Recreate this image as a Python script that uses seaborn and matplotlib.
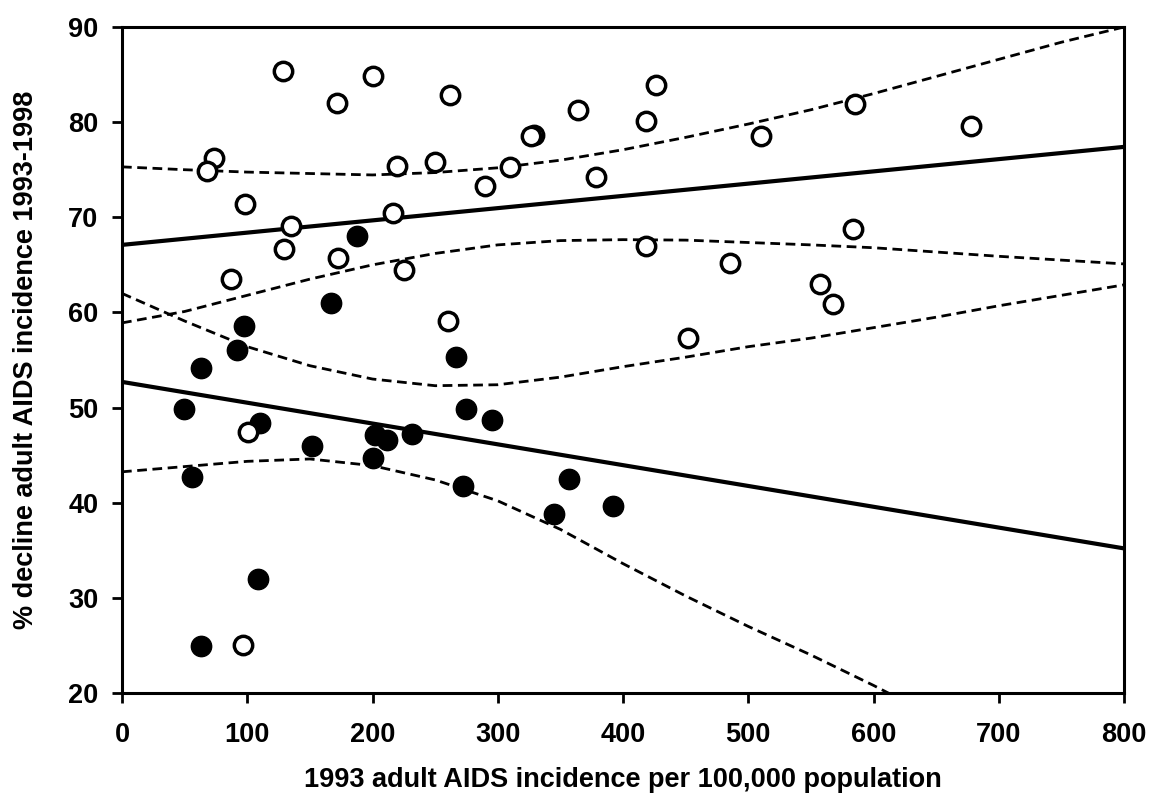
import matplotlib
matplotlib.use("Agg")
import matplotlib.pyplot as plt
import seaborn as sns
import pandas as pd
import numpy as np

# ---- data ----
open_x = [128.3, 200.7, 171.9, 73.5, 67.6, 219.5, 98.2, 134.9, 216.1, 129.3, 172.2, 87.3,
          225.1, 261.9, 363.8, 426.3, 418.4, 328.6, 326.3, 510.2, 249.6, 309.8, 290.1,
          378.4, 418.4, 485.4, 260.6, 452.1, 585.2, 677.8, 583.4, 557.3, 567.9, 100.9, 96.9]
open_y = [85.4, 84.85, 82.0, 76.2, 74.9, 75.4, 71.4, 69.05, 70.4, 66.7, 65.7, 63.5,
          64.5, 82.8, 81.3, 83.9, 80.1, 78.7, 78.5, 78.5, 75.8, 75.25, 73.3,
          74.2, 67.0, 65.2, 59.1, 57.3, 81.9, 79.6, 68.8, 62.95, 60.9, 47.45, 25.0]

filled_x = [63.3, 92.1, 97.4, 166.6, 187.4, 266.7, 49.8, 110.2, 151.4, 201.6, 211.3,
            200.7, 231.3, 56.1, 108.3, 62.8, 274.7, 295.2, 272.0, 357.1, 345.1, 391.8]
filled_y = [54.2, 56.0, 58.6, 61.0, 68.0, 55.35, 49.85, 48.4, 46.0, 47.1, 46.6,
            44.7, 47.2, 42.7, 31.95, 24.9, 49.85, 48.7, 41.75, 42.5, 38.8, 39.65]

# regression lines (end points)
fit_x = [0, 800]
fit_open_y = [67.1, 77.4]
fit_filled_y = [52.7, 35.2]

# confidence bands
band_x = [0, 50, 100, 150, 200, 250, 300, 350, 400, 450, 500, 550, 600, 650, 700, 750, 800]
open_upper = [75.3, 75.0, 74.75, 74.6, 74.45, 74.7, 75.2, 76.0, 77.1, 78.4, 79.8, 81.3,
              83.0, 84.8, 86.6, 88.4, 90.0]
open_lower = [58.9, 60.1, 61.8, 63.5, 65.0, 66.2, 67.1, 67.55, 67.65, 67.6, 67.35, 67.1,
              66.8, 66.35, 65.9, 65.5, 65.1]
filled_upper = [62.0, 59.1, 56.4, 54.4, 53.0, 52.3, 52.4, 53.2, 54.3, 55.3, 56.4, 57.3,
                58.4, 59.5, 60.7, 61.8, 62.9]
filled_lower_x = [0, 50, 100, 150, 200, 250, 300, 350, 400, 450, 500, 550, 600, 650]
filled_lower = [43.25, 43.8, 44.35, 44.6, 43.9, 42.4, 40.2, 37.2, 33.6, 30.2, 27.0, 24.0,
                20.8, 17.4]

x_ticks = [0, 100, 200, 300, 400, 500, 600, 700, 800]
y_ticks = [20, 30, 40, 50, 60, 70, 80, 90]
x_label = "1993 adult AIDS incidence per 100,000 population"
y_label = "% decline adult AIDS incidence 1993-1998"

# ---- plotting ----
sns.set_theme(style="white")
plt.rcParams['font.family'] = ['Liberation Sans', 'DejaVu Sans']
plt.rcParams['font.weight'] = 'bold'

fig = plt.figure(figsize=(11.53, 8.01), dpi=100)
ax = fig.add_axes([0.1058, 0.1348, 0.9749 - 0.1058, 0.9663 - 0.1348])

dash = (3.5, 2.0)
for bx, by in [(band_x, open_upper), (band_x, open_lower),
               (band_x, filled_upper), (filled_lower_x, filled_lower)]:
    sns.lineplot(x=bx, y=by, ax=ax, color="black", linewidth=2.0,
                 linestyle=(0, dash), sort=False)
sns.lineplot(x=fit_x, y=fit_open_y, ax=ax, color="black", linewidth=3.0)
sns.lineplot(x=fit_x, y=fit_filled_y, ax=ax, color="black", linewidth=3.0)

sns.scatterplot(x=filled_x, y=filled_y, ax=ax, marker="o", s=215, color="black",
                edgecolor="black", linewidth=1, zorder=5)
sns.scatterplot(x=open_x, y=open_y, ax=ax, marker="o", s=175, facecolor="white",
                edgecolor="black", linewidth=2.5, zorder=6)

ax.set_xlim(0, 800)
ax.set_ylim(20, 90)
ax.set_xticks(x_ticks)
ax.set_yticks(y_ticks)
ax.tick_params(axis="both", direction="out", length=7, width=2, labelsize=19.5,
               pad=10, color="black", labelcolor="black", bottom=True, left=True)
ax.tick_params(axis="x", pad=14)
for lab in ax.get_xticklabels() + ax.get_yticklabels():
    lab.set_fontweight("bold")
for sp in ax.spines.values():
    sp.set_visible(True)
    sp.set_color("black")
    sp.set_linewidth(2.2)

ax.set_xlabel(x_label, fontsize=19.5, fontweight="bold", color="black", va="center")
ax.set_ylabel(y_label, fontsize=19.5, fontweight="bold", color="black", va="center")
ax.xaxis.set_label_coords(0.5, -0.1306)
ax.yaxis.set_label_coords(-0.0958, 0.5)

fig.savefig("out.png", dpi=100, facecolor="white")
